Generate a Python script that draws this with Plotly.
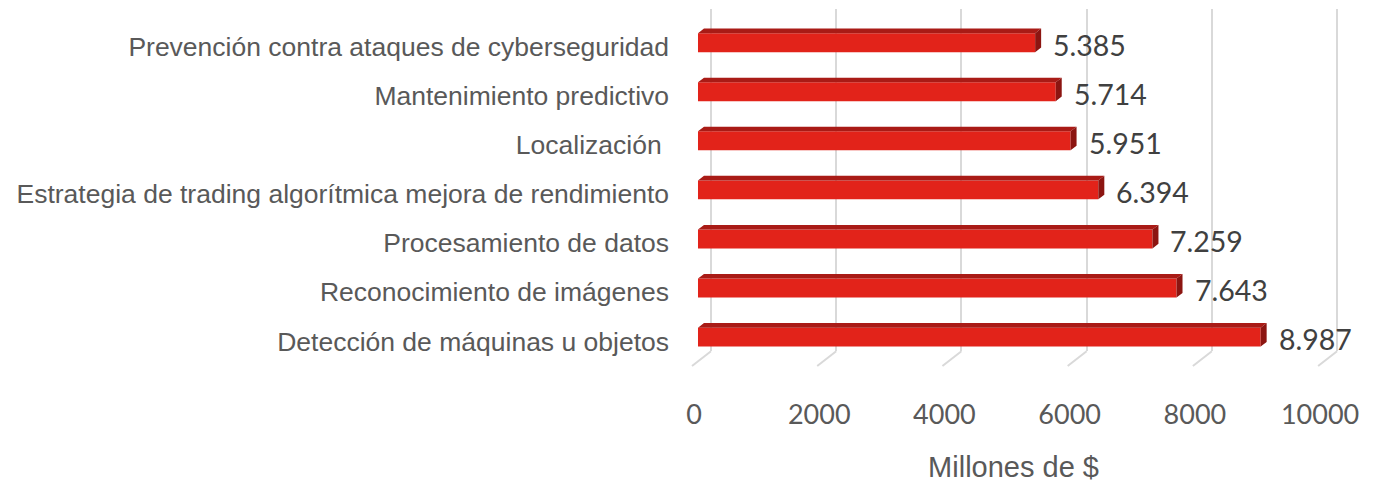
import plotly.graph_objects as go

# ---------------- data ----------------
categories = [
    "Detección de máquinas u objetos",
    "Reconocimiento de imágenes",
    "Procesamiento de datos",
    "Estrategia de trading algorítmica mejora de rendimiento",
    "Localización ",
    "Mantenimiento predictivo",
    "Prevención contra ataques de cyberseguridad",
]
values = [8987, 7643, 7259, 6394, 5951, 5714, 5385]
tick_values = [0, 2000, 4000, 6000, 8000, 10000]
x_title = "Millones de $"

# ---------------- geometry / styles (screen pixels) ----------------
W, H = 1389, 483


def fx(p):   # screen px -> paper x
    return p / W


def fy(p):   # screen px (from top) -> paper y
    return (H - p) / H


S = 0.0627             # px per data unit along x
X0_PX = 699            # pixel of value 0 on the bar front plane
DOM_L, DOM_R = 671, 1359
x_range = [(DOM_L - X0_PX) / S, (DOM_R - X0_PX) / S]

Y_PX0, Y_STEP = 347.7, 50.0   # pixel of category index 0, px per category
TOP_PX, BOT_PX = 9, 358
y_range = [(Y_PX0 - BOT_PX) / Y_STEP, (Y_PX0 - TOP_PX) / Y_STEP]
y_dom = [fy(BOT_PX), fy(TOP_PX)]

BACK_SHIFT = 13 / S    # back wall gridlines offset
FLOOR_SHIFT = 6 / S    # floor front offset
LABEL_SHIFT = 4 / S    # tick label offset
DX = 6 / S             # bar depth in x
DY = 0.094             # bar depth in y
BAR_W, BAR_OFF = 0.386, -0.109

FRONT = "#E2231A"
TOPC = "#A91B16"
SIDE = "#8C1511"
GRID = "#D9D9D9"

idx = list(range(len(categories)))

fig = go.Figure()

# front faces
fig.add_trace(go.Bar(
    x=values, y=idx, orientation="h",
    width=BAR_W, offset=BAR_OFF,
    marker=dict(color=FRONT, line=dict(width=0)),
    hoverinfo="skip", showlegend=False,
))

# top faces & side faces (derived from the values)
tx, ty, sx, sy = [], [], [], []
for i, v in zip(idx, values):
    yt = i + BAR_OFF + BAR_W
    yb = i + BAR_OFF
    tx += [0, v, v + DX, DX, 0, None]
    ty += [yt, yt, yt + DY, yt + DY, yt, None]
    sx += [v, v, v + DX, v + DX, v, None]
    sy += [yb, yt, yt + DY, yb + DY, yb, None]

fig.add_trace(go.Scatter(x=tx, y=ty, mode="lines", fill="toself",
                         fillcolor=TOPC, line=dict(width=0),
                         hoverinfo="skip", showlegend=False))
fig.add_trace(go.Scatter(x=sx, y=sy, mode="lines", fill="toself",
                         fillcolor=SIDE, line=dict(width=0),
                         hoverinfo="skip", showlegend=False))

# helper invisible traces for overlay axes
fig.add_trace(go.Scatter(x=[5000], y=[0], xaxis="x2", mode="markers",
                         marker=dict(opacity=0), hoverinfo="skip", showlegend=False))
fig.add_trace(go.Scatter(x=[5000], y=[0], xaxis="x3", mode="markers",
                         marker=dict(opacity=0), hoverinfo="skip", showlegend=False))

# data labels
for i, v in zip(idx, values):
    fig.add_annotation(
        x=v, y=i + 0.044, xref="x", yref="y",
        text=f"{v:,}".replace(",", "."),
        showarrow=False, xanchor="left", yanchor="middle", xshift=16,
        font=dict(family="Lato", size=28.5, color="#404040"),
    )

# floor diagonals
for t in tick_values:
    fig.add_shape(type="line", xref="x", yref="paper",
                  x0=t + BACK_SHIFT, y0=fy(BOT_PX), x1=t - FLOOR_SHIFT, y1=fy(373),
                  line=dict(color=GRID, width=2), layer="below")

fig.update_layout(
    width=W, height=H,
    margin=dict(l=0, r=0, t=0, b=0),
    paper_bgcolor="white", plot_bgcolor="rgba(0,0,0,0)",
    xaxis=dict(domain=[fx(DOM_L), fx(DOM_R)], range=x_range,
               showgrid=False, zeroline=False, showticklabels=False,
               showline=False, fixedrange=True),
    xaxis2=dict(overlaying="x", anchor="y", domain=[fx(DOM_L), fx(DOM_R)],
                range=[x_range[0] - BACK_SHIFT, x_range[1] - BACK_SHIFT],
                tickvals=tick_values, showgrid=True, gridcolor=GRID, gridwidth=2,
                showticklabels=False, zeroline=False, showline=False, ticks=""),
    xaxis3=dict(overlaying="x", anchor="free", position=fy(404),
                domain=[fx(DOM_L), fx(DOM_R)],
                range=[x_range[0] + LABEL_SHIFT, x_range[1] + LABEL_SHIFT],
                tickvals=tick_values, ticktext=[str(t) for t in tick_values],
                showgrid=False, zeroline=False, showline=False, ticks="",
                tickfont=dict(family="Lato", size=27, color="#595959"),
                title=dict(text=x_title, standoff=32,
                           font=dict(family="Liberation Sans", size=29, color="#595959"))),
    yaxis=dict(domain=y_dom, range=y_range, tickvals=idx, ticktext=categories,
               showgrid=False, zeroline=False, showline=False, ticks="",
               tickfont=dict(family="Liberation Sans", size=26.5, color="#595959")),
)

fig.write_html(
    "out.html",
    config={"displayModeBar": False},
    post_script="document.body.style.margin='0px';document.body.style.overflow='hidden';",
)
